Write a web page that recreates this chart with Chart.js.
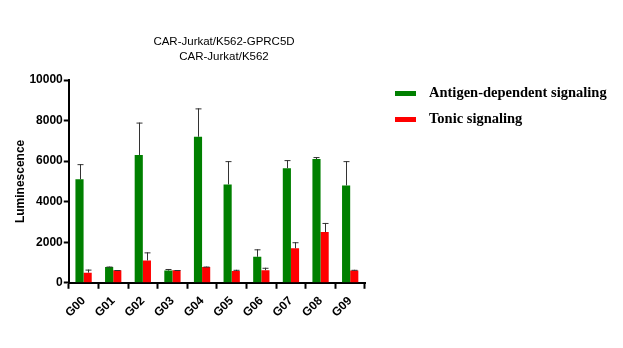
<!DOCTYPE html>
<html>
<head>
<meta charset="utf-8">
<script src="https://cdn.jsdelivr.net/npm/chart.js@4"></script>
<style>
  html, body { margin: 0; padding: 0; background: #fff; }
  #wrap { position: relative; width: 623px; height: 348px; }
</style>
</head>
<body>
<div id="wrap"><canvas id="chart" width="623" height="348"></canvas></div>
<script>
const groups = ['G00', 'G01', 'G02', 'G03', 'G04', 'G05', 'G06', 'G07', 'G08', 'G09'];
const antigenValues = [5100, 780, 6300, 600, 7200, 4850, 1280, 5650, 6100, 4800];
const antigenUpper = [5850, 800, 7900, 680, 8600, 6000, 1650, 6050, 6200, 6000];
const tonicValues = [500, 620, 1100, 620, 780, 580, 620, 1700, 2500, 600];
const tonicUpper = [650, 630, 1500, 630, 800, 640, 740, 2000, 2950, 640];
const yTicks = [0, 2000, 4000, 6000, 8000, 10000];
const titleLines = ['CAR-Jurkat/K562-GPRC5D', 'CAR-Jurkat/K562'];
const legendLabels = ['Antigen-dependent signaling', 'Tonic signaling'];

const upperByDataset = [antigenUpper, tonicUpper];

const errorBars = {
    id: 'errorBars',
    afterDatasetsDraw(chart) {
        const ctx = chart.ctx;
        const y = chart.scales.y;
        ctx.save();
        ctx.strokeStyle = '#333';
        ctx.lineWidth = 1;
        chart.data.datasets.forEach((ds, di) => {
            const meta = chart.getDatasetMeta(di);
            meta.data.forEach((bar, i) => {
                const top = y.getPixelForValue(upperByDataset[di][i]);
                const x = Math.round(bar.x) + 0.5;
                ctx.beginPath();
                ctx.moveTo(x, bar.y);
                ctx.lineTo(x, top);
                ctx.moveTo(x - 3, top + 0.5);
                ctx.lineTo(x + 3, top + 0.5);
                ctx.stroke();
            });
        });
        ctx.restore();
    }
};

const extras = {
    id: 'extras',
    afterDraw(chart) {
        const ctx = chart.ctx;
        ctx.save();
        ctx.fillStyle = '#000';
        ctx.textAlign = 'center';
        ctx.textBaseline = 'middle';
        ctx.font = '11.5px "Liberation Sans", Arial, sans-serif';
        ctx.fillText(titleLines[0], 224, 42);
        ctx.fillText(titleLines[1], 224, 57);

        const colors = ['#008000', '#ff0000'];
        ctx.textAlign = 'left';
        ctx.font = 'bold 14.5px "Liberation Serif", "Times New Roman", serif';
        legendLabels.forEach((label, i) => {
            const ly = 93 + i * 26;
            ctx.fillStyle = colors[i];
            ctx.fillRect(395, ly - 2, 21, 5);
            ctx.fillStyle = '#000';
            ctx.fillText(label, 429, ly);
        });
        ctx.restore();
    }
};

const axisFont = { family: '"Liberation Sans", Arial, sans-serif', size: 12, weight: 'bold' };

new Chart(document.getElementById('chart'), {
    type: 'bar',
    data: {
        labels: groups,
        datasets: [
            {
                label: legendLabels[0],
                data: antigenValues,
                backgroundColor: '#008000',
                borderWidth: 0
            },
            {
                label: legendLabels[1],
                data: tonicValues,
                backgroundColor: '#ff0000',
                borderWidth: 0
            }
        ]
    },
    options: {
        responsive: false,
        animation: false,
        devicePixelRatio: 1,
        layout: {
            padding: { top: 80, right: 258, left: 12, bottom: 23 }
        },
        categoryPercentage: 0.55,
        barPercentage: 1.0,
        scales: {
            x: {
                grid: {
                    display: true,
                    drawOnChartArea: false,
                    drawTicks: true,
                    tickLength: 6,
                    tickWidth: 2,
                    tickColor: '#000'
                },
                border: { color: '#000', width: 2 },
                ticks: {
                    color: '#000',
                    maxRotation: 45,
                    minRotation: 45,
                    padding: 5,
                    font: axisFont
                }
            },
            y: {
                min: 0,
                max: 10000,
                afterBuildTicks(axis) {
                    axis.ticks = yTicks.map(v => ({ value: v }));
                },
                grid: {
                    display: true,
                    drawOnChartArea: false,
                    drawTicks: true,
                    tickLength: 5,
                    tickWidth: 2,
                    tickColor: '#000'
                },
                border: { color: '#000', width: 2 },
                ticks: {
                    color: '#000',
                    padding: 1,
                    font: axisFont,
                    callback: v => String(v)
                },
                title: {
                    display: true,
                    text: 'Luminescence',
                    color: '#000',
                    padding: 1,
                    font: axisFont
                }
            }
        },
        plugins: {
            legend: { display: false },
            title: { display: false },
            tooltip: { enabled: false }
        }
    },
    plugins: [errorBars, extras]
});
</script>
</body>
</html>
